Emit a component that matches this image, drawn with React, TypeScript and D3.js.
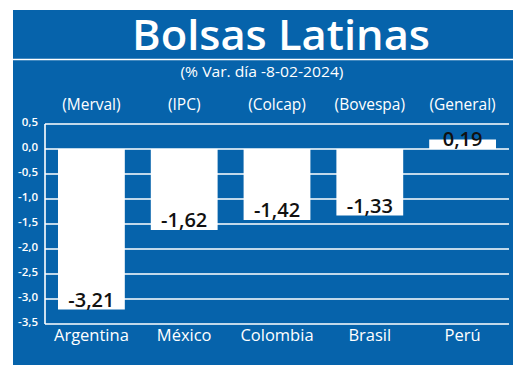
import React from "react";
import * as d3 from "d3";

const countries = ["Argentina", "México", "Colombia", "Brasil", "Perú"];
const indices = ["(Merval)", "(IPC)", "(Colcap)", "(Bovespa)", "(General)"];
const values = [-3.21, -1.62, -1.42, -1.33, 0.19];
const ticks = [0.5, 0, -0.5, -1, -1.5, -2, -2.5, -3, -3.5];

const BLUE = "#0663ab";
const FONT = "'Open Sans', 'Noto Sans', sans-serif";

const fmt = (v: number, d: number) => v.toFixed(d).replace(".", ",");

export default function App() {
  const W = 520, H = 376;
  const x = d3.scaleBand<string>().domain(countries).range([45, 509]).paddingInner(0.28).paddingOuter(0.14);
  const y = d3.scaleLinear().domain([-3.5, 0.5]).range([324, 124]);
  const bw = x.bandwidth();
  return (
    <svg width={W} height={H} style={{ position: "absolute", left: 0, top: 0 }}>
      <rect x={0} y={0} width={W} height={H} fill="#fff" />
      <rect x={13} y={10} width={500} height={355} fill={BLUE} />
      <text x={281} y={50} textAnchor="middle" fill="#fff" fontFamily={FONT} fontSize={41} fontWeight={600} textLength={298} lengthAdjust="spacingAndGlyphs">Bolsas Latinas</text>
      <line x1={13} x2={513} y1={59.5} y2={59.5} stroke="#fff" strokeWidth={1.5} />
      <text x={262} y={77} textAnchor="middle" fill="#fff" fontFamily={FONT} fontSize={15} textLength={163} lengthAdjust="spacingAndGlyphs">(% Var. día -8-02-2024)</text>
      {ticks.map((t) => (
        <g key={t}>
          <line x1={45} x2={509} y1={y(t)} y2={y(t)} stroke="#fff" strokeWidth={1.6} />
          <text x={38} y={y(t) + 2} textAnchor="end" fill="#fff" fontFamily={FONT} fontSize={11.5} fontWeight={600}>{fmt(t, 1)}</text>
        </g>
      ))}
      <line x1={45} x2={45} y1={y(0.5)} y2={y(-3.5)} stroke="#fff" strokeWidth={1.6} />
      {countries.map((c, i) => {
        const v = values[i];
        const cx = (x(c) as number) + bw / 2;
        const top = y(Math.max(0, v));
        const bot = y(Math.min(0, v));
        return (
          <g key={c}>
            <rect x={x(c)} y={top} width={bw} height={bot - top} fill="#fff" />
            <text x={cx} y={bot - 3} textAnchor="middle" fill="#111" fontFamily={FONT} fontSize={20} fontWeight={600}>{fmt(v, 2)}</text>
            <text x={cx} y={110} textAnchor="middle" fill="#fff" fontFamily={FONT} fontSize={15.5}>{indices[i]}</text>
            <text x={cx} y={341} textAnchor="middle" fill="#fff" fontFamily={FONT} fontSize={16.5}>{c}</text>
          </g>
        );
      })}
    </svg>
  );
}
